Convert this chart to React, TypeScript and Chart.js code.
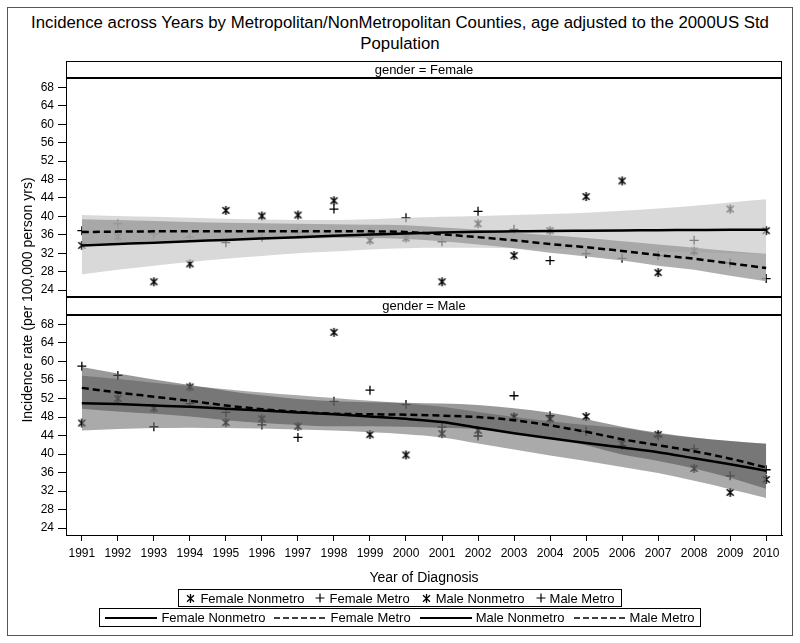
import React, { useEffect, useRef } from "react";
import { Chart, registerables } from "chart.js";

Chart.register(...registerables);

const FONT = "'Liberation Sans', Arial, Helvetica, sans-serif";

// ---------------- data ----------------
const years = [1991, 1992, 1993, 1994, 1995, 1996, 1997, 1998, 1999, 2000, 2001, 2002, 2003, 2004, 2005, 2006, 2007, 2008, 2009, 2010];
const yTicks = [24, 28, 32, 36, 40, 44, 48, 52, 56, 60, 64, 68];

// observed rates
const femaleNonmetro = [33.7, 35.6, 25.8, 29.7, 41.3, 40.1, 40.3, 43.4, 34.8, 35.3, 25.8, 38.4, 31.5, 36.9, 44.3, 47.7, 27.8, 32.5, 41.6, 36.9];
const femaleMetro = [36.9, 38.4, 36.2, 35.5, 34.3, 35.5, 36.5, 41.6, 36.5, 39.7, 34.5, 41.1, 37.2, 30.4, 31.9, 30.9, 31.5, 34.8, 29.9, 26.5];
const maleNonmetro = [46.7, 52.0, 49.9, 54.5, 46.8, 47.6, 46.0, 66.3, 44.2, 39.8, 44.4, 45.1, 48.0, 47.6, 48.1, 42.2, 44.2, 36.9, 31.7, 34.5];
const maleMetro = [59.0, 57.0, 45.9, 50.9, 49.0, 46.3, 43.6, 51.4, 53.8, 50.7, 45.8, 43.9, 52.6, 48.3, 44.9, 41.8, 43.9, 41.1, 35.3, 36.6];

// fitted curves and confidence limits
const femaleNonmetroFit = [33.7, 34.0, 34.3, 34.6, 34.9, 35.2, 35.5, 35.8, 36.05, 36.3, 36.5, 36.65, 36.75, 36.85, 36.9, 36.95, 37.0, 37.05, 37.1, 37.1];
const femaleNonmetroLo = [27.4, 28.4, 29.3, 30.1, 30.8, 31.4, 32.0, 32.4, 32.8, 33.1, 33.2, 33.2, 33.1, 33.0, 32.8, 32.6, 32.4, 32.2, 32.0, 31.8];
const femaleNonmetroHi = [40.3, 40.1, 39.9, 39.7, 39.5, 39.3, 39.2, 39.2, 39.4, 39.7, 39.9, 40.1, 40.3, 40.5, 40.8, 41.2, 41.7, 42.3, 43.0, 43.7];

const femaleMetroFit = [36.6, 36.7, 36.75, 36.8, 36.8, 36.8, 36.8, 36.8, 36.75, 36.6, 36.1, 35.5, 34.8, 34.0, 33.3, 32.5, 31.6, 30.8, 29.8, 28.8];
const femaleMetroLo = [34.0, 34.3, 34.6, 34.8, 35.0, 35.1, 35.2, 35.3, 35.3, 35.1, 34.6, 33.9, 33.1, 32.1, 31.3, 30.4, 29.3, 28.4, 27.1, 25.9];
const femaleMetroHi = [39.4, 39.2, 39.0, 38.8, 38.6, 38.5, 38.4, 38.3, 38.2, 38.1, 37.6, 37.1, 36.5, 35.9, 35.3, 34.6, 33.9, 33.2, 32.5, 31.9];

const maleNonmetroFit = [51.0, 50.8, 50.5, 50.2, 49.8, 49.4, 49.0, 48.6, 48.1, 47.6, 46.9, 45.7, 44.5, 43.4, 42.4, 41.4, 40.4, 39.1, 37.8, 36.4];
const maleNonmetroLo = [45.1, 45.4, 45.6, 45.7, 45.6, 45.5, 45.3, 45.1, 44.7, 44.3, 43.6, 42.3, 41.0, 39.7, 38.5, 37.2, 35.9, 34.2, 32.4, 30.5];
const maleNonmetroHi = [56.9, 56.2, 55.4, 54.7, 54.0, 53.3, 52.7, 52.1, 51.5, 50.9, 50.2, 49.1, 48.0, 47.1, 46.3, 45.6, 44.4, 43.5, 42.8, 42.2];

const maleMetroFit = [54.3, 53.3, 52.4, 51.5, 50.5, 49.7, 49.1, 48.7, 48.6, 48.5, 48.3, 48.0, 47.3, 46.2, 44.8, 43.2, 41.9, 40.6, 39.0, 37.1];
const maleMetroLo = [49.8, 49.2, 48.7, 48.1, 47.3, 46.7, 46.3, 46.0, 46.0, 45.9, 45.7, 45.4, 44.7, 43.5, 41.9, 39.9, 38.5, 36.9, 34.9, 32.5];
const maleMetroHi = [58.8, 57.4, 56.1, 54.9, 53.7, 52.7, 51.9, 51.4, 51.2, 51.1, 50.9, 50.6, 49.9, 48.9, 47.5, 45.9, 44.6, 43.6, 42.8, 42.2];

const titleLines = ["Incidence across Years by Metropolitan/NonMetropolitan Counties, age adjusted to the 2000US Std", "Population"];
const yTitle = "Incidence rate (per 100,000 person yrs)";
const xTitle = "Year of Diagnosis";
const panelHeaders = ["gender = Female", "gender = Male"];
const markerLegend = [
  { label: "Female Nonmetro", sym: "ast" },
  { label: "Female Metro", sym: "plus" },
  { label: "Male Nonmetro", sym: "ast" },
  { label: "Male Metro", sym: "plus" },
];
const lineLegend = [
  { label: "Female Nonmetro", dashed: false },
  { label: "Female Metro", dashed: true },
  { label: "Male Nonmetro", dashed: false },
  { label: "Male Metro", dashed: true },
];

// ---------------- helpers ----------------
const pts = (vals: number[]) => years.map((x, i) => ({ x, y: vals[i] }));

function makeAsterisk(): HTMLCanvasElement {
  const c = document.createElement("canvas");
  c.width = 11;
  c.height = 11;
  const g = c.getContext("2d")!;
  g.strokeStyle = "#000";
  g.lineWidth = 1.5;
  g.beginPath();
  g.moveTo(5.5, 1);
  g.lineTo(5.5, 10);
  g.moveTo(2, 2.3);
  g.lineTo(9, 8.7);
  g.moveTo(9, 2.3);
  g.lineTo(2, 8.7);
  g.stroke();
  return c;
}

function framePlugin(headerH: number, thickTop: boolean, thickBottom: boolean) {
  return {
    id: "panelFrame",
    afterDraw(chart: any) {
      const { ctx, chartArea } = chart;
      const L = Math.round(chartArea.left);
      const R = Math.round(chartArea.right);
      const T = Math.round(chartArea.top);
      const B = Math.round(chartArea.bottom);
      const hT = T - headerH;
      const w = R - L;
      ctx.save();
      ctx.fillStyle = "#000";
      if (thickTop) ctx.fillRect(L, hT - 1, w, 2);
      else ctx.fillRect(L, hT, w, 1);
      ctx.fillRect(L, T - 1, w, 2);
      ctx.fillRect(L, hT, 1, B - hT);
      ctx.fillRect(R - 1, hT, 1, B - hT);
      if (thickBottom) ctx.fillRect(L, B - 1, w, 2);
      else ctx.fillRect(L, B, w, 1);
      ctx.restore();
    },
  };
}

type Panel = {
  non: number[]; met: number[];
  nonFit: number[]; metFit: number[];
  nonLo: number[]; nonHi: number[];
  metLo: number[]; metHi: number[];
  nonBand: string; metBand: string;
};

function buildConfig(p: Panel, ast: HTMLCanvasElement, showX: boolean, padTop: number, padBottom: number, plugin: any): any {
  const band = (vals: number[], extra: any) => ({
    data: pts(vals),
    pointRadius: 0,
    borderWidth: 0,
    borderColor: "transparent",
    cubicInterpolationMode: "monotone",
    fill: false,
    ...extra,
  });
  return {
    type: "line",
    data: {
      datasets: [
        { label: "nonmetro points", data: pts(p.non), showLine: false, pointStyle: ast, pointRadius: 4, order: 10 },
        {
          label: "metro points", data: pts(p.met), showLine: false, pointStyle: "cross", pointRadius: 4.5,
          pointBorderWidth: 1.3, pointBorderColor: "#000", pointBackgroundColor: "#000", order: 10,
        },
        band(p.nonLo, { order: 6 }),
        band(p.nonHi, { order: 6, fill: "-1", backgroundColor: p.nonBand }),
        band(p.metLo, { order: 5 }),
        band(p.metHi, { order: 5, fill: "-1", backgroundColor: p.metBand }),
        band(p.nonFit, { order: 1, borderWidth: 2.5, borderColor: "#000" }),
        band(p.metFit, { order: 1, borderWidth: 2.5, borderColor: "#000", borderDash: [7, 4] }),
      ],
    },
    options: {
      animation: false,
      responsive: false,
      events: [],
      layout: { padding: { top: padTop, bottom: padBottom, left: 0, right: 18 } },
      plugins: { legend: { display: false }, tooltip: { enabled: false }, title: { display: false } },
      scales: {
        x: {
          type: "linear",
          min: 1990.56,
          max: 2010.44,
          display: showX,
          afterBuildTicks: (s: any) => { s.ticks = years.map((v) => ({ value: v })); },
          afterFit: (s: any) => { s.height = showX ? 30 : 0; },
          grid: { drawOnChartArea: false, drawTicks: true, tickLength: 6, color: "#000", lineWidth: 1 },
          border: { display: true, color: "#000", width: 1 },
          ticks: {
            autoSkip: false, maxRotation: 0, minRotation: 0, padding: 5, color: "#000",
            font: { size: 12, family: FONT }, callback: (v: any) => String(v),
          },
        },
        y: {
          type: "linear",
          min: 22.5,
          max: 70.05,
          afterBuildTicks: (s: any) => { s.ticks = yTicks.map((v) => ({ value: v })); },
          afterFit: (s: any) => { s.width = 66; },
          grid: { drawOnChartArea: false, drawTicks: true, tickLength: 8, color: "#000", lineWidth: 1 },
          border: { display: true, color: "#000", width: 1 },
          ticks: { autoSkip: false, padding: 4, color: "#000", font: { size: 12, family: FONT }, callback: (v: any) => String(v) },
        },
      },
    },
    plugins: [plugin],
  };
}

const AstIcon = () => (
  <svg width="11" height="11" viewBox="0 0 11 11" style={{ display: "block" }}>
    <path d="M5.5 1V10M2 2.3L9 8.7M9 2.3L2 8.7" stroke="#000" strokeWidth="1.3" fill="none" />
  </svg>
);
const PlusIcon = () => (
  <svg width="10" height="10" viewBox="0 0 10 10" style={{ display: "block" }}>
    <path d="M5 0.5V9.5M0.5 5H9.5" stroke="#000" strokeWidth="1.2" fill="none" />
  </svg>
);
const LineIcon = ({ dashed }: { dashed: boolean }) => (
  <svg width="52" height="6" viewBox="0 0 52 6" style={{ display: "block" }}>
    <line x1="0" y1="3" x2="52" y2="3" stroke="#000" strokeWidth={dashed ? 1.6 : 2} strokeDasharray={dashed ? "6 3" : undefined} />
  </svg>
);

export default function App() {
  const refA = useRef<HTMLCanvasElement>(null);
  const refB = useRef<HTMLCanvasElement>(null);

  useEffect(() => {
    Chart.defaults.font.family = FONT;
    const ast = makeAsterisk();
    const female: Panel = {
      non: femaleNonmetro, met: femaleMetro,
      nonFit: femaleNonmetroFit, metFit: femaleMetroFit,
      nonLo: femaleNonmetroLo, nonHi: femaleNonmetroHi,
      metLo: femaleMetroLo, metHi: femaleMetroHi,
      nonBand: "rgba(197,197,197,0.65)", metBand: "rgba(157,157,157,0.82)",
    };
    const male: Panel = {
      non: maleNonmetro, met: maleMetro,
      nonFit: maleNonmetroFit, metFit: maleMetroFit,
      nonLo: maleNonmetroLo, nonHi: maleNonmetroHi,
      metLo: maleMetroLo, metHi: maleMetroHi,
      nonBand: "rgba(113,113,113,0.6)", metBand: "rgba(85,85,85,0.6)",
    };
    const a = new Chart(refA.current!, buildConfig(female, ast, false, 28, 13, framePlugin(17, false, true)));
    const b = new Chart(refB.current!, buildConfig(male, ast, true, 25, 5, framePlugin(18, true, false)));
    return () => { a.destroy(); b.destroy(); };
  }, []);

  return (
    <div style={{ position: "fixed", left: 0, top: 0, width: 800, height: 643, background: "#fff", overflow: "hidden", fontFamily: FONT, color: "#000" }}>
      <div style={{ position: "absolute", left: 7, top: 7, width: 786, height: 629, border: "1px solid #555", boxSizing: "border-box" }} />
      <div style={{ position: "absolute", left: 0, top: 12, width: 800, textAlign: "center", fontSize: 16.8, lineHeight: "21px", whiteSpace: "nowrap" }}>
        {titleLines.map((t) => (<div key={t}>{t}</div>))}
      </div>
      <canvas ref={refA} width={800} height={260} style={{ position: "absolute", left: 0, top: 50 }} />
      <canvas ref={refB} width={800} height={280} style={{ position: "absolute", left: 0, top: 290 }} />
      <div style={{ position: "absolute", left: 66, top: 61, width: 716, height: 17, lineHeight: "17px", textAlign: "center", fontSize: 13 }}>{panelHeaders[0]}</div>
      <div style={{ position: "absolute", left: 66, top: 297, width: 716, height: 18, lineHeight: "18px", textAlign: "center", fontSize: 13 }}>{panelHeaders[1]}</div>
      <div style={{ position: "absolute", left: 27 - 160, top: 300 - 9, width: 320, height: 18, lineHeight: "18px", textAlign: "center", fontSize: 14, transform: "rotate(-90deg)", whiteSpace: "nowrap" }}>{yTitle}</div>
      <div style={{ position: "absolute", left: 66, top: 569, width: 716, height: 16, lineHeight: "16px", textAlign: "center", fontSize: 14 }}>{xTitle}</div>
      <div style={{ position: "absolute", left: 0, top: 589, width: 800, display: "flex", justifyContent: "center" }}>
        <div style={{ display: "flex", alignItems: "center", height: 18, boxSizing: "border-box", border: "1px solid #000", padding: "0 6px", fontSize: 13, whiteSpace: "nowrap" }}>
          {markerLegend.map((m, i) => (
            <div key={i} style={{ display: "flex", alignItems: "center", marginLeft: i === 0 ? 0 : 11 }}>
              {m.sym === "ast" ? <AstIcon /> : <PlusIcon />}
              <span style={{ marginLeft: 4 }}>{m.label}</span>
            </div>
          ))}
        </div>
      </div>
      <div style={{ position: "absolute", left: 0, top: 608, width: 800, display: "flex", justifyContent: "center" }}>
        <div style={{ display: "flex", alignItems: "center", height: 19, boxSizing: "border-box", border: "1px solid #000", padding: "0 5px", fontSize: 13, whiteSpace: "nowrap" }}>
          {lineLegend.map((m, i) => (
            <div key={i} style={{ display: "flex", alignItems: "center", marginLeft: i === 0 ? 0 : 9 }}>
              <LineIcon dashed={m.dashed} />
              <span style={{ marginLeft: 4 }}>{m.label}</span>
            </div>
          ))}
        </div>
      </div>
    </div>
  );
}
